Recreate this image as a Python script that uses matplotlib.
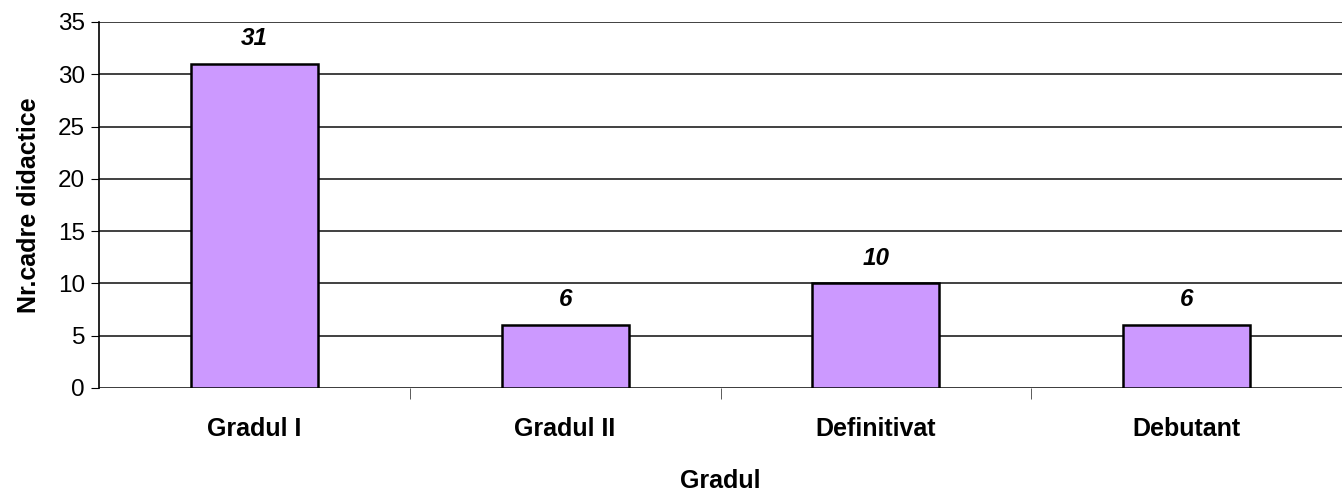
import matplotlib
matplotlib.use('Agg')
import matplotlib.pyplot as plt

categories = ['Gradul I', 'Gradul II', 'Definitivat', 'Debutant']
values = [31, 6, 10, 6]
y_ticks = [0, 5, 10, 15, 20, 25, 30, 35]

plt.rcParams['font.family'] = ['Liberation Sans', 'DejaVu Sans']

fig = plt.figure(figsize=(13.42, 4.96), dpi=100)
ax = fig.add_axes([99 / 1342, 1 - 388 / 496, 1 - 99 / 1342, (388 - 22) / 496])

x = list(range(len(categories)))
ax.bar(x, values, width=0.408, color='#cc99ff', edgecolor='black', linewidth=1.8, zorder=3)

for xi, v in zip(x, values):
    ax.annotate(str(v), (xi, v), xytext=(0, 10), textcoords='offset points',
                ha='center', va='bottom', fontsize=17.5, fontweight='bold', fontstyle='italic')

ax.set_xlim(-0.5, 3.462)
ax.set_ylim(0, 35)
ax.set_yticks(y_ticks)
ax.yaxis.grid(True, color='#202020', linewidth=1.2, zorder=0)

# category labels in the middle, ticks on the boundaries
ax.set_xticks(x)
ax.set_xticklabels(categories, fontsize=18, fontweight='bold')
ax.tick_params(axis='x', which='major', length=0, pad=21)
ax.set_xticks([0.5, 1.5, 2.5, 3.5], minor=True)
ax.tick_params(axis='x', which='minor', length=8, color='#404040', direction='out')
ax.tick_params(axis='y', labelsize=17.5, length=6, direction='out', pad=4)

for s in ['top', 'right', 'bottom']:
    ax.spines[s].set_visible(False)
ax.spines['left'].set_linewidth(1.2)
ax.axhline(0, color='#404040', linewidth=1.2, zorder=2)

ax.set_xlabel('Gradul', fontsize=18, fontweight='bold', labelpad=20)
ax.set_ylabel('Nr.cadre didactice', fontsize=18, fontweight='bold', labelpad=12)

fig.savefig('out.png', dpi=100)
